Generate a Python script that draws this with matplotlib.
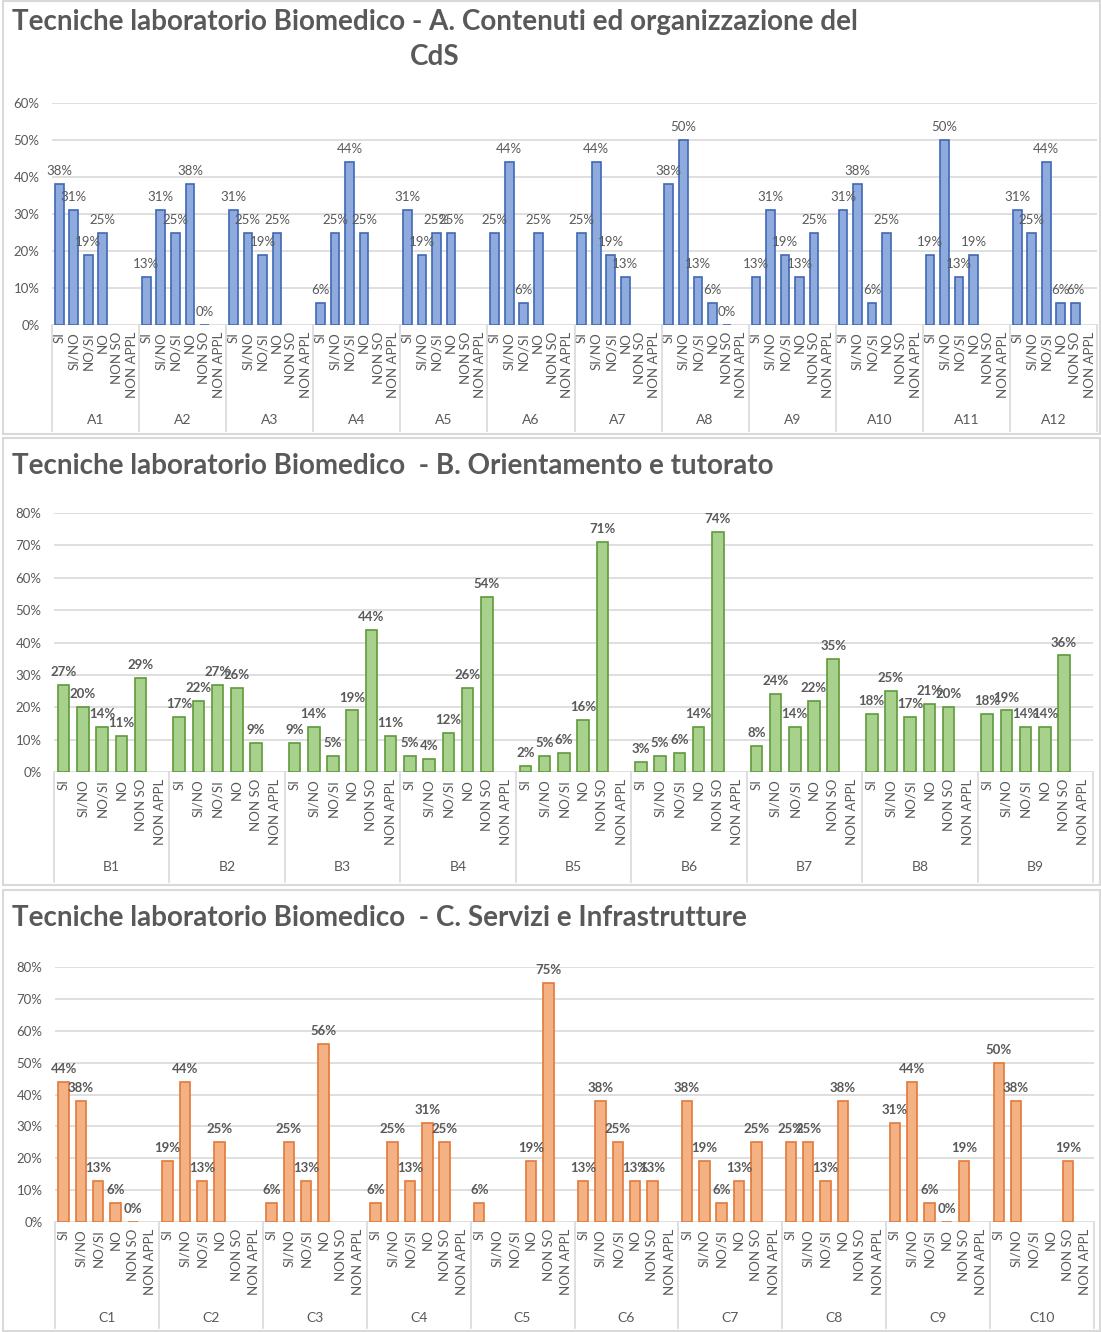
import numpy as np
import matplotlib
matplotlib.use("Agg")
import matplotlib.pyplot as plt
from matplotlib.patches import Rectangle
from matplotlib.transforms import blended_transform_factory

plt.rcParams['font.family'] = ['Lato', 'DejaVu Sans']

# risposte possibili (ordine delle barre in ogni gruppo)
risposte = ['SI', 'SI/NO', 'NO/SI', 'NO', 'NON SO', 'NON APPL']
n = np.nan

# A. Contenuti ed organizzazione del CdS
gruppi_a = ['A1', 'A2', 'A3', 'A4', 'A5', 'A6', 'A7', 'A8', 'A9', 'A10', 'A11', 'A12']
valori_a = [
    [38, 31, 19, 25, n, n],
    [13, 31, 25, 38, 0, n],
    [31, 25, 19, 25, n, n],
    [6, 25, 44, 25, n, n],
    [31, 19, 25, 25, n, n],
    [25, 44, 6, 25, n, n],
    [25, 44, 19, 13, n, n],
    [38, 50, 13, 6, 0, n],
    [13, 31, 19, 13, 25, n],
    [31, 38, 6, 25, n, n],
    [19, 50, 13, 19, n, n],
    [31, 25, 44, 6, 6, n],
]

# B. Orientamento e tutorato
gruppi_b = ['B1', 'B2', 'B3', 'B4', 'B5', 'B6', 'B7', 'B8', 'B9']
valori_b = [
    [27, 20, 14, 11, 29, n],
    [17, 22, 27, 26, 9, n],
    [9, 14, 5, 19, 44, 11],
    [5, 4, 12, 26, 54, n],
    [2, 5, 6, 16, 71, n],
    [3, 5, 6, 14, 74, n],
    [8, 24, 14, 22, 35, n],
    [18, 25, 17, 21, 20, n],
    [18, 19, 14, 14, 36, n],
]

# C. Servizi e Infrastrutture
gruppi_c = ['C1', 'C2', 'C3', 'C4', 'C5', 'C6', 'C7', 'C8', 'C9', 'C10']
valori_c = [
    [44, 38, 13, 6, 0, n],
    [19, 44, 13, 25, n, n],
    [6, 25, 13, 56, n, n],
    [6, 25, 13, 31, 25, n],
    [6, n, n, 19, 75, n],
    [13, 38, 25, 13, 13, n],
    [38, 19, 6, 13, 25, n],
    [25, 25, 13, 38, n, n],
    [31, 44, 6, 0, 19, n],
    [50, 38, n, n, 19, n],
]

W, H = 1101, 1332
GRIGIO = '#595959'
LINEA = '#D9D9D9'

fig = plt.figure(figsize=(W / 100, H / 100), dpi=100)


def fy(y):
    return 1 - y / H


def pannello(titolo, y_titolo, gruppi, valori, ymax, colore, bordo, grassetto,
             box, area, y_gruppi):
    # cornice del grafico
    x0, y0, x1, y1 = box
    fig.add_artist(Rectangle((x0 / W, fy(y1)), (x1 - x0) / W, (y1 - y0) / H,
                             transform=fig.transFigure, fill=False,
                             edgecolor=LINEA, lw=1.5))
    fig.text(12 / W, fy(y_titolo), titolo, ha='left', va='top',
             multialignment='center', fontsize=20, fontweight='bold',
             color=GRIGIO, linespacing=1.45)

    l, t, r, b = area
    ax = fig.add_axes([l / W, fy(b), (r - l) / W, (b - t) / H])
    ng = len(gruppi)
    nr = len(risposte)
    for g in range(ng):
        xs = g * nr + np.arange(nr) + 0.5
        v = np.array(valori[g], dtype=float)
        ok = ~np.isnan(v)
        ax.bar(xs[ok], v[ok] / 100, width=0.6, color=colore,
               edgecolor=bordo, linewidth=1.2, zorder=3)
        for x, val in zip(xs[ok], v[ok]):
            ax.annotate(f'{val:.0f}%', (x, val / 100), xytext=(0, 5),
                        textcoords='offset points', ha='center', va='bottom',
                        fontsize=9.5, color=GRIGIO,
                        fontweight='bold' if grassetto else 'normal', zorder=4)

    ax.set_xlim(0, ng * nr)
    ax.set_ylim(0, ymax / 100)
    ticks = np.arange(0, ymax + 1, 10)
    ax.set_yticks(ticks / 100)
    ax.set_yticklabels([f'{v}%' for v in ticks], fontsize=9.5, color=GRIGIO)
    ax.grid(axis='y', color=LINEA, lw=1.2, zorder=0)
    for s in ax.spines.values():
        s.set_visible(False)
    ax.tick_params(axis='y', length=0, pad=9)
    ax.tick_params(axis='x', length=0, pad=5)

    ax.set_xticks(np.arange(ng * nr) + 0.5)
    ax.set_xticklabels(risposte * ng, rotation=90, fontsize=9.5, color=GRIGIO,
                       va='top', ha='center')

    # etichette dei gruppi e separatori verticali
    tr = blended_transform_factory(ax.transData, fig.transFigure)
    for g in range(ng + 1):
        ax.plot([g * nr, g * nr], [fy(b), fy(y1 - 3)], color=LINEA, lw=1.2,
                transform=tr, clip_on=False)
    for g, nome in enumerate(gruppi):
        ax.text(g * nr + nr / 2, fy(y_gruppi), nome, transform=tr,
                ha='center', va='center', fontsize=10, color=GRIGIO)
    return ax


pannello('Tecniche laboratorio Biomedico - A. Contenuti ed organizzazione del\nCdS', 9,
         gruppi_a, valori_a, 60, '#8FAADC', '#3F68B5', False,
         (3, 1, 1100, 434), (52, 103, 1097, 325), 420)

pannello('Tecniche laboratorio Biomedico  - B. Orientamento e tutorato', 453,
         gruppi_b, valori_b, 80, '#A9D18E', '#5E9A3A', True,
         (3, 438, 1100, 885), (54, 513, 1093, 772), 867)

pannello('Tecniche laboratorio Biomedico  - C. Servizi e Infrastrutture', 905,
         gruppi_c, valori_c, 80, '#F4B183', '#E2793A', True,
         (3, 890, 1100, 1331), (55, 967, 1094, 1222), 1318)

fig.savefig('out.png', dpi=100)
